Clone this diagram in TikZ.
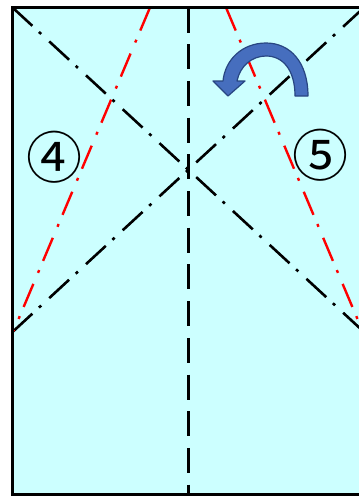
\documentclass[tikz,border=0pt]{standalone}
\usepackage{fontspec}
\newfontfamily\cjk{Noto Sans CJK JP}
\definecolor{paper}{RGB}{204,255,255}
\definecolor{arrowfill}{RGB}{70,110,190}
\definecolor{arrowline}{RGB}{40,70,130}
\begin{document}
\begin{tikzpicture}[x=1pt,y=-1pt,
  border/.style={line width=2.8pt},
  mountain/.style={line width=2.6pt, dash pattern=on 27pt off 9pt on 3pt off 11pt},
  redfold/.style={red, line width=2.4pt, dash pattern=on 25pt off 10pt on 3pt off 12pt},
  valley/.style={line width=3pt, dash pattern=on 25pt off 11.7pt},
  num/.style={font=\cjk\fontsize{56}{56}\selectfont, inner sep=0pt},
  turn/.style={fill=arrowfill, draw=arrowline, line width=1.2pt, line join=round}]
\useasboundingbox (0,0) rectangle (359,496);
\clip (0,0) rectangle (359,496);
\coordinate (TL) at (12.5,7.5);
\coordinate (TR) at (364,7.5);
\coordinate (BL) at (12.5,494.5);
\coordinate (BR) at (364,494.5);
\coordinate (LS) at (12.5,332);
\coordinate (RS) at (364,332);
\coordinate (TM) at (188,7.5);
\coordinate (BM) at (188,494.5);
\coordinate (RT1) at (150,7.5);
\coordinate (RT2) at (226,7.5);
\coordinate (RE1) at (13.5,331);
\coordinate (RE2) at (362.5,331);
\fill[paper] (TL) rectangle (BR);
\draw[valley] (TM) -- (BM);
\draw[mountain] (TL) -- (RS);
\draw[mountain] (LS) -- (TR);
\draw[redfold] (RT1) -- (RE1);
\draw[redfold] (RT2) -- (RE2);
\draw[border] (TR) -- (TL) -- (BL) -- (BR);
\draw[turn] (308,96) .. controls (308,62) and (290,43) .. (266,43)
  .. controls (242,43) and (225,60) .. (223,81)
  -- (213,81) -- (228,96) -- (245,81) -- (237,81)
  .. controls (240,66) and (252,56) .. (266,56)
  .. controls (283,56) and (295,70) .. (295,96) -- cycle;
\node[num] (n4) at (55,157) {④};
\node[num] (n5) at (320,155) {⑤};
\end{tikzpicture}
\end{document}
